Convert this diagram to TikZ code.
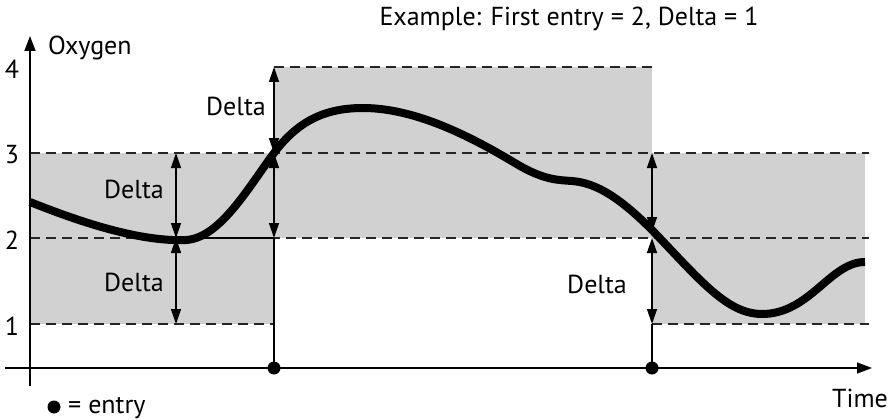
\documentclass[tikz,border=0pt]{standalone}
\usepackage{fontspec}
\setmainfont{PT Sans}
\usetikzlibrary{arrows.meta}
\begin{document}
\begin{tikzpicture}[x=1pt,y=-1pt,
  lbl/.style={font=\fontsize{26}{30}\selectfont, inner sep=0pt},
  band/.style={fill=black!18, draw=none},
  dline/.style={line width=1.3pt, dash pattern=on 10pt off 6pt, black!85},
  thin/.style={line width=1.4pt},
  dim/.style={line width=1.4pt, {Triangle[length=15pt,width=10pt]}-{Triangle[length=15pt,width=10pt]}},
  ax/.style={line width=1.4pt, -{Triangle[length=15pt,width=11pt]}},
  curve/.style={line width=8pt, line cap=butt, line join=round},
  dot/.style={circle, fill=black, inner sep=0pt, minimum size=13pt}]
\useasboundingbox (0,0) rectangle (895,420);
% bands
\fill[band] (30,153) rectangle (274,324);
\fill[band] (274,67) rectangle (652,238);
\fill[band] (652,153) rectangle (865,324);
% dashed levels
\draw[dline] (274,67) -- (652,67);
\draw[dline] (30,153) -- (869,153);
\draw[dline] (30,238) -- (869,238);
\draw[dline] (30,324) -- (274,324);
\draw[dline] (652,324) -- (869,324);
\draw[thin] (190,238) -- (274,238);
% axes
\coordinate (yb) at (30,386);
\coordinate (yt) at (30,36);
\coordinate (xl) at (5,368);
\coordinate (xr) at (872,368);
\draw[ax] (yb) -- (yt);
\draw[ax] (xl) -- (xr);
% entries
\node[dot] (e1) at (274,368) {};
\node[dot] (e2) at (652,368) {};
\coordinate (a4) at (274,67);
\coordinate (a3) at (274,153);
\coordinate (a2) at (274,238);
\coordinate (b3) at (652,153);
\coordinate (b2) at (652,232);
\coordinate (b2l) at (652,238);
\coordinate (b1) at (652,324);
\coordinate (l3) at (176,153);
\coordinate (l2) at (176,238);
\coordinate (l1) at (176,324);
\draw[thin] (e1.center) -- (a2);
\draw[thin] (e2.center) -- (b1);
\draw[dim] (a4) -- (a3);
\draw[dim] (a3) -- (a2);
\draw[dim] (b3) -- (b2);
\draw[dim] (b2l) -- (b1);
\draw[dim] (l3) -- (l2);
\draw[dim] (l2) -- (l1);
% curve
\draw[curve] (30,202) .. controls (80,222) and (140,242) .. (186,240)
  .. controls (220,238) and (248,188) .. (274,153)
  .. controls (298,121) and (325,108) .. (363,108)
  .. controls (420,108) and (480,142) .. (520,166)
  .. controls (545,180) and (558,180) .. (572,181)
  .. controls (598,183) and (622,200) .. (652,230)
  .. controls (700,280) and (727,314) .. (762,314)
  .. controls (810,314) and (830,262) .. (865,262);
% labels
\node[lbl] (d1) at (236,106) {Delta};
\node[lbl] (d2) at (134,189) {Delta};
\node[lbl] (d3) at (134,282) {Delta};
\node[lbl] (d4) at (597,284) {Delta};
\node[lbl] (t4) at (12,69) {4};
\node[lbl] (t3) at (12,155) {3};
\node[lbl] (t2) at (12,240) {2};
\node[lbl] (t1) at (12,326) {1};
\node[lbl, anchor=west] (oxy) at (48,48) {Oxygen};
\node[lbl] (time) at (860,398) {Time};
\node[dot] (legdot) at (54,407) {};
\node[lbl, anchor=west] (leg) at (68,408) {= entry};
\node[lbl] (title) at (569,19) {Example: First entry = 2, Delta = 1};
\end{tikzpicture}
\end{document}
